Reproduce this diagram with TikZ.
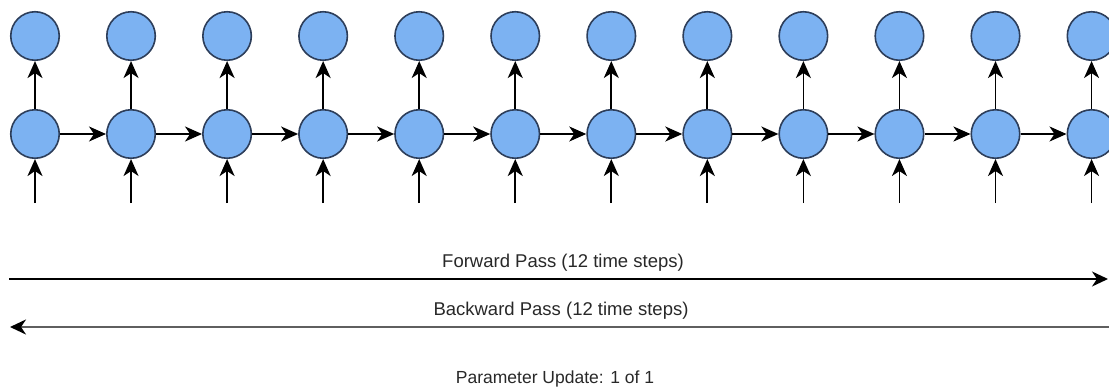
\documentclass[tikz,border=0pt]{standalone}
\usepackage{fontspec}
\setmainfont{Liberation Sans}
\usetikzlibrary{arrows.meta}
\definecolor{cellfill}{RGB}{124,178,242}
\definecolor{celldraw}{RGB}{45,62,90}
\definecolor{txtgray}{RGB}{40,40,40}
\definecolor{backgray}{RGB}{95,95,95}
\tikzset{
  cell/.style={circle, minimum size=48.5pt, inner sep=0pt, fill=cellfill, draw=celldraw, line width=1.6pt},
  conn/.style={line width=1.8pt, -{Stealth[length=17pt,width=15pt,inset=5pt]}},
  lbl/.style={anchor=base, text=txtgray, font=\fontsize{18.5}{21}\selectfont, inner sep=0pt}
}
\begin{document}
\begin{tikzpicture}[x=1pt,y=-1pt]
\useasboundingbox (0,0) rectangle (1109,391);
\foreach \i in {1,...,12} {
  \pgfmathsetmacro{\cx}{35+(\i-1)*96.05}
  \node[cell] (top\i) at (\cx,36) {};
  \node[cell] (mid\i) at (\cx,134) {};
  \coordinate (in\i) at (\cx,203);
  \draw[conn] (in\i) -- (mid\i.south);
  \draw[conn] (mid\i.north) -- (top\i.south);
}
\foreach \i [evaluate=\i as \j using int(\i+1)] in {1,...,11} {
  \draw[conn] (mid\i.east) -- (mid\j.west);
}
\coordinate (fs) at (9,279);
\coordinate (fe) at (1108,279);
\coordinate (bs) at (1109,327);
\coordinate (be) at (10,327);
\draw[line width=1.9pt, -{Stealth[length=16pt,width=15pt,inset=5pt]}] (fs) -- (fe);
\draw[line width=2.4pt, draw=backgray, -{Stealth[length=16pt,width=15pt,inset=5pt,color=black]}] (bs) -- (be);
\node[lbl] (fwd) at (563,267) {Forward Pass (12 time steps)};
\node[lbl] (bwd) at (561,315) {Backward Pass (12 time steps)};
\node[lbl, font=\fontsize{17.5}{20}\selectfont] (upd) at (555,383) {Parameter Update: 1 of 1};
\end{tikzpicture}
\end{document}
